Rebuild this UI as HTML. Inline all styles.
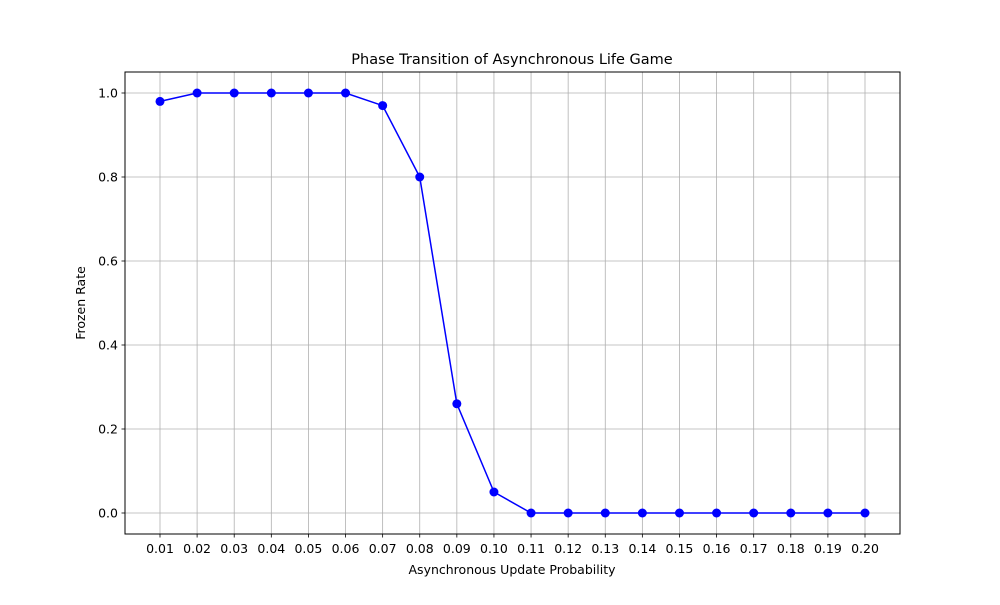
<!DOCTYPE html>
<html><head><meta charset="utf-8"><style>
body{margin:0;background:#fff;}
svg text{font-family:"DejaVu Sans","Liberation Sans",sans-serif;fill:#000;}
</style></head><body>
<svg id="chart" width="1000" height="600" xmlns="http://www.w3.org/2000/svg">
<rect width="1000" height="600" fill="#fff"/>
<g id="grid"></g>
<g id="ticks"></g>
<polyline id="line" fill="none" stroke="#0000ff" stroke-width="1.5"/>
<g id="points"></g>
<rect x="125" y="72" width="775" height="462" fill="none" stroke="#000" stroke-width="1"/>
<text x="512" y="64" font-size="14.5" text-anchor="middle">Phase Transition of Asynchronous Life Game</text>
<text x="512" y="574" font-size="12.5" text-anchor="middle">Asynchronous Update Probability</text>
<text transform="translate(85,303) rotate(-90)" font-size="12.5" text-anchor="middle">Frozen Rate</text>
</svg>
<script>
const categories=[0.01,0.02,0.03,0.04,0.05,0.06,0.07,0.08,0.09,0.10,0.11,0.12,0.13,0.14,0.15,0.16,0.17,0.18,0.19,0.20];
const frozenRate=[0.98,1,1,1,1,1,0.97,0.80,0.26,0.05,0,0,0,0,0,0,0,0,0,0];
const yTicks=[0.0,0.2,0.4,0.6,0.8,1.0];
const NS="http://www.w3.org/2000/svg";
function xs(v){return 160+(v-0.01)/(0.19)*705;}
function ys(v){return 513-v*420;}
const grid=document.getElementById('grid'),ticks=document.getElementById('ticks'),pts=document.getElementById('points');
function mk(tag,attrs,parent){const e=document.createElementNS(NS,tag);for(const k in attrs)e.setAttribute(k,attrs[k]);parent.appendChild(e);return e;}
categories.forEach(c=>{const x=xs(c);
 const g=mk('line',{x1:x,x2:x,y1:72,y2:534,stroke:'#b0b0b0','stroke-width':0.8},grid);
 
 
 mk('line',{x1:x,x2:x,y1:534,y2:537.5,stroke:'#000','stroke-width':0.8},ticks);
 const t=mk('text',{x:x,y:553,'font-size':12.5,'text-anchor':'middle'},ticks);t.textContent=c.toFixed(2);
 
 
});
yTicks.forEach(v=>{const y=ys(v);
 const g=mk('line',{x1:125,x2:900,y1:y,y2:y,stroke:'#b0b0b0','stroke-width':0.8},grid);
 
 
 mk('line',{x1:121.5,x2:125,y1:y,y2:y,stroke:'#000','stroke-width':0.8},ticks);
 const t=mk('text',{x:118,y:y+4.5,'font-size':12.5,'text-anchor':'end'},ticks);t.textContent=v.toFixed(1);
 
 
});
document.getElementById('line').setAttribute('points',categories.map((c,i)=>xs(c)+','+ys(frozenRate[i])).join(' '));
categories.forEach((c,i)=>{const p=mk('circle',{cx:xs(c),cy:ys(frozenRate[i]),r:4.5,fill:'#0000ff'},pts);
 
 
});
</script>
</body></html>
